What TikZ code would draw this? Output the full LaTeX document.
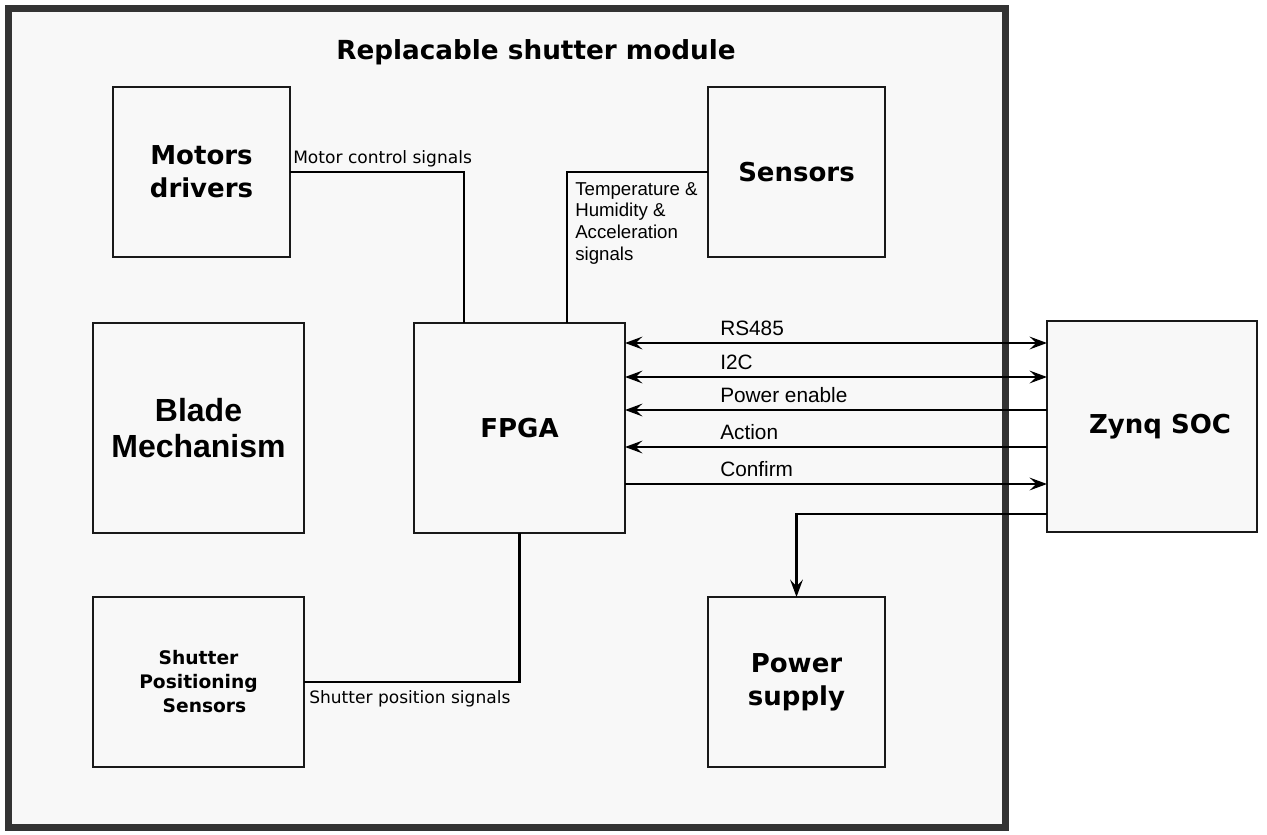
\documentclass[tikz,border=0pt]{standalone}
\usepackage{fontspec}
\usetikzlibrary{arrows.meta}
\usetikzlibrary{calc}
\usetikzlibrary{positioning}
\newfontfamily\dejavu{DejaVu Sans}
\newfontfamily\arialfont{Liberation Sans}
\definecolor{panel}{HTML}{F8F8F8}
\definecolor{framegray}{HTML}{333333}

\begin{document}
\begin{tikzpicture}[x=0.75pt, y=-0.75pt,
        >={Stealth[length=13pt, width=9.5pt, inset=5pt]},
        block/.style={draw=black!90, line width=1.3pt, fill=panel, inner sep=0pt, outer sep=0pt,
            align=center, font=\dejavu\bfseries\fontsize{19.5}{24.75}\selectfont},
        wire/.style={line width=1.8pt},
        sig/.style={font=\dejavu\fontsize{12.8}{15}\selectfont, inner sep=0pt},
        bus/.style={font=\arialfont\fontsize{15.6}{18}\selectfont, inner sep=0pt}]
        \useasboundingbox (0,0) rectangle (1267,835);

        % Module frame
        \draw[line width=5.25pt, draw=framegray, fill=panel] (8,8) rectangle (1005.5,827.5);
        \node[font=\dejavu\bfseries\fontsize{19.7}{24}\selectfont, anchor=base, inner sep=0pt] (title) at (536,59) {Replacable shutter module};

        % Blocks
        \node[block, minimum width=132.75pt, minimum height=127.5pt] (motors) at (201.5,172) {Motors\\drivers};
        \node[block, minimum width=132.75pt, minimum height=127.5pt] (sensors) at (796.5,172) {Sensors};
        \node[block, minimum width=158.25pt, minimum height=157.5pt,
            font=\arialfont\bfseries\fontsize{24}{26.8}\selectfont] (blade) at (198.5,428) {Blade\\Mechanism};
        \node[block, minimum width=158.25pt, minimum height=157.5pt] (fpga) at (519.5,428) {FPGA};
        \node[block, minimum width=157.5pt, minimum height=158.25pt] (zynq) at (1152,426.5) {\hspace*{12pt}Zynq SOC};
        \node[block, minimum width=158.25pt, minimum height=127.5pt,
            font=\dejavu\bfseries\fontsize{14}{18}\selectfont] (shutpos) at (198.5,682) {Shutter\\Positioning\\\hspace*{9pt}Sensors};
        \node[block, minimum width=132.75pt, minimum height=127.5pt] (power) at (796.5,682) {Power\\supply};

        % Motor and sensor signals
        \draw[wire] (motors.east) -| ([xshift=-41.6pt]fpga.north);
        \node[sig, anchor=base west] (motorsig) at (293,163) {Motor control signals};
        \draw[wire] (sensors.west) -| ([xshift=35.6pt]fpga.north);
        \node[font=\arialfont\fontsize{14}{16.3}\selectfont, align=left, anchor=north west, inner sep=0pt]
            (envsig) at (575,182) {Temperature \&\\Humidity \&\\Acceleration\\signals};

        % FPGA <-> Zynq
        \foreach \yy/\txt/\dir [count=\i] in {343/RS485/<->, 377/I2C/<->, 410/Power enable/<-, 447/Action/<-, 484/Confirm/->} {
            \draw[wire, \dir] (fpga.east |- 0,\yy) -- (zynq.west |- 0,\yy);
            \node[bus, anchor=base west] (bus\i) at (720,\yy-7.5) {\txt};
        }

        % Power enable line to supply
        \draw[wire, ->] (zynq.west |- 0,514) -| (power.north);

        % Shutter position
        \draw[wire] (fpga.south) |- (shutpos.east);
        \node[sig, anchor=base west] (possig) at (309,703) {Shutter position signals};

    \end{tikzpicture}
\end{document}
